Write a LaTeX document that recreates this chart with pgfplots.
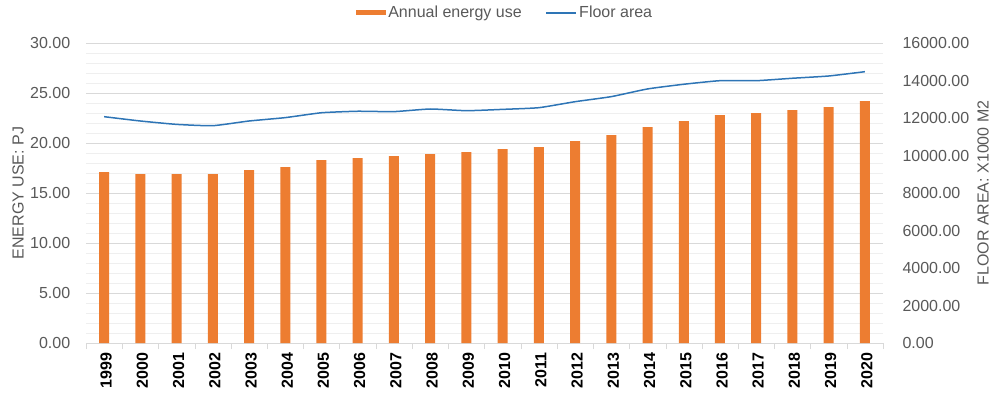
\documentclass[border=0pt]{standalone}
\usepackage{pgfplots}
\pgfplotsset{compat=1.18}
\usepackage{fontspec}
\setmainfont{Liberation Sans}
\definecolor{barorange}{HTML}{ED7D31}
\definecolor{lineblue}{HTML}{2E75B6}
\definecolor{ticktext}{HTML}{595959}
\definecolor{majgrid}{HTML}{D9D9D9}
\definecolor{mingrid}{HTML}{EFEFEF}
\begin{document}
\fontsize{16bp}{19bp}\selectfont
\begin{tikzpicture}[x=1bp,y=1bp]
\useasboundingbox (0,0) rectangle (999,395);
\begin{axis}[
  at={(86bp,52bp)}, anchor=south west,
  scale only axis, width=797bp, height=300bp,
  xmin=-0.5, xmax=21.5, ymin=0, ymax=30,
  axis x line*=bottom, axis y line*=left,
  x axis line style={draw=majgrid},
  y axis line style={draw=none},
  xtick={0,...,21},
  xticklabels={1999,2000,2001,2002,2003,2004,2005,2006,2007,2008,2009,2010,2011,2012,2013,2014,2015,2016,2017,2018,2019,2020},
  xticklabel style={rotate=90, anchor=east, font=\fontsize{16bp}{19bp}\selectfont\bfseries, text=black, xshift=0bp, yshift=-2bp},
  major x tick style={draw=none},
  minor xtick={-0.5,0.5,...,21.5},
  minor x tick style={draw=majgrid},
  minor tick length=6bp,
  tick align=outside,
  ytick={0,5,...,30},
  minor ytick={1,2,3,4,6,7,8,9,11,12,13,14,16,17,18,19,21,22,23,24,26,27,28,29},
  ymajorgrids, yminorgrids,
  major grid style={draw=majgrid, line width=0.8bp},
  minor grid style={draw=mingrid, line width=0.8bp},
  major y tick style={draw=none}, minor y tick style={draw=none},
  yticklabel style={text=ticktext, font=\fontsize{16bp}{19bp}\selectfont, xshift=-6bp},
  /pgf/number format/assume math mode=true,
  yticklabel={\pgfmathprintnumber[fixed, fixed zerofill, precision=2]{\tick}},
  ylabel={ENERGY USE: PJ},
  ylabel style={at={(rel axis cs:-0.0853,0.5)}, rotate=0, anchor=center, text=ticktext, font=\fontsize{16bp}{19bp}\selectfont},
  legend columns=2,
  legend style={at={(rel axis cs:0.526,1.1)}, anchor=center, draw=none, fill=none, font=\fontsize{16bp}{19bp}\selectfont, text=ticktext, column sep=0bp, /tikz/every even column/.append style={column sep=22bp}},
  legend cell align=left,
]
\addplot[ybar, bar width=10bp, fill=barorange, draw=none,
  legend image code/.code={\fill[barorange] (-2bp,-2bp) rectangle (28bp,2.5bp);}]
  coordinates {(0,17.1) (1,16.9) (2,16.9) (3,16.9) (4,17.3) (5,17.6) (6,18.3) (7,18.5) (8,18.7) (9,18.9) (10,19.1) (11,19.4) (12,19.6) (13,20.2) (14,20.8) (15,21.6) (16,22.2) (17,22.8) (18,23.0) (19,23.3) (20,23.6) (21,24.2)};
\addlegendentry{Annual energy use}
\addlegendimage{legend image code/.code={\draw[lineblue, line width=1.5bp] (-2bp,0bp) -- (28bp,0bp);}}
\addlegendentry{Floor area}
\end{axis}
\begin{axis}[
  at={(86bp,52bp)}, anchor=south west,
  scale only axis, width=797bp, height=300bp,
  xmin=-0.5, xmax=21.5, ymin=0, ymax=16000,
  axis y line*=right, axis x line=none,
  y axis line style={draw=none},
  ytick={0,2000,...,16000},
  scaled y ticks=false,
  major y tick style={draw=none},
  yticklabel style={text=ticktext, font=\fontsize{16bp}{19bp}\selectfont, anchor=west, xshift=14bp},
  /pgf/number format/assume math mode=true,
  yticklabel={\pgfmathprintnumber[fixed, fixed zerofill, precision=2, 1000 sep={}]{\tick}},
  ylabel={FLOOR AREA: X1000 M2},
  ylabel style={at={(rel axis cs:1.1255,0.5)}, rotate=0, anchor=center, text=ticktext, font=\fontsize{16bp}{19bp}\selectfont},
]
\addplot[lineblue, line width=1.5bp, smooth, tension=0.3, mark=none]
  coordinates {(0,12070) (1,11840) (2,11660) (3,11590) (4,11840) (5,12020) (6,12280) (7,12360) (8,12340) (9,12480) (10,12390) (11,12460) (12,12550) (13,12870) (14,13140) (15,13550) (16,13800) (17,13990) (18,13990) (19,14120) (20,14240) (21,14470)};
\end{axis}
\end{tikzpicture}
\end{document}
